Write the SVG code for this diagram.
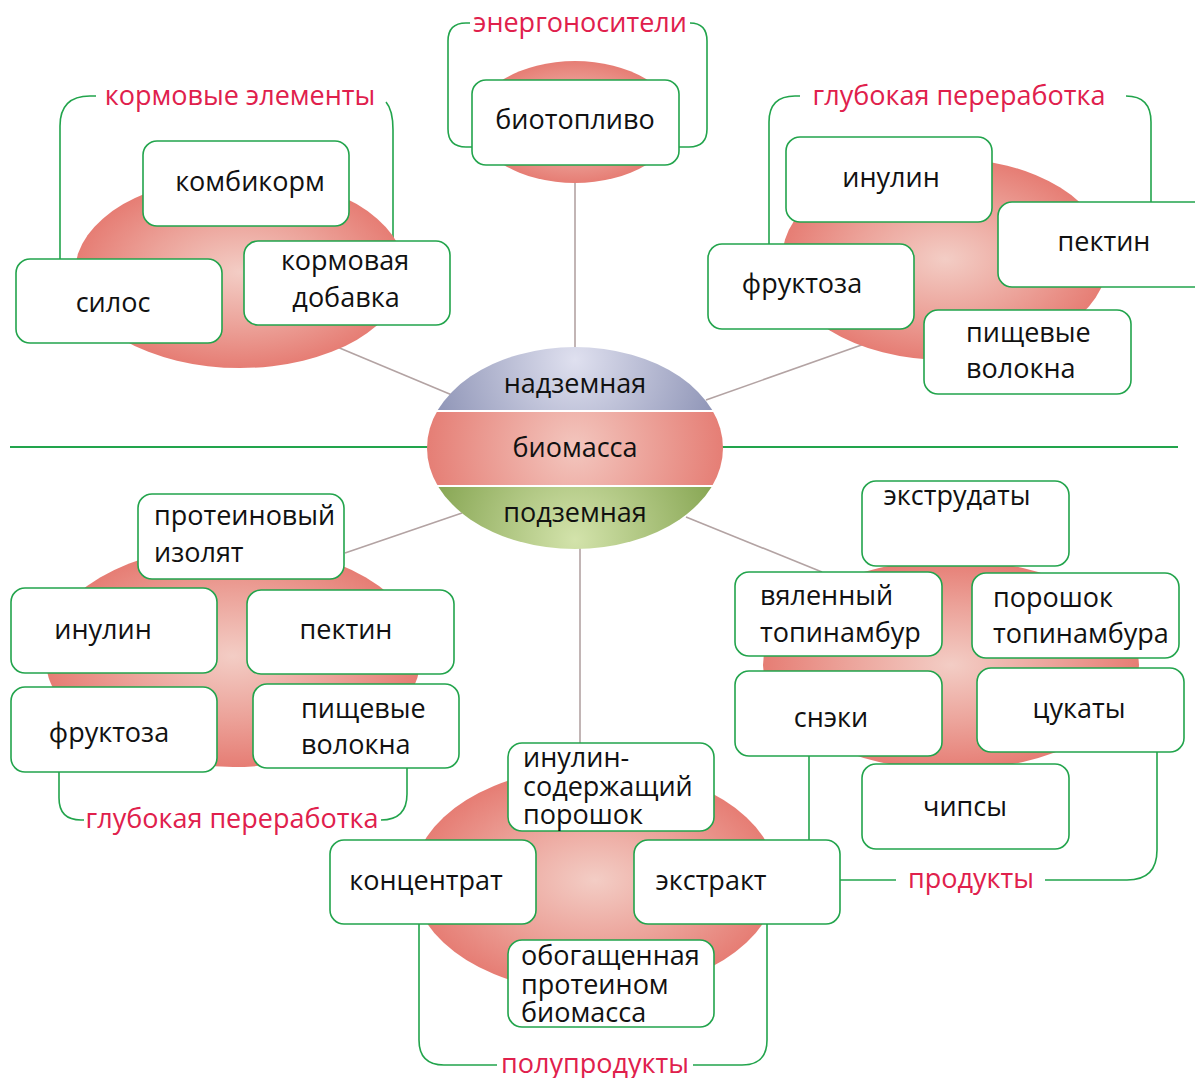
<svg xmlns="http://www.w3.org/2000/svg" width="1195" height="1078" viewBox="0 0 1195 1078">
<style>
.box{fill:#fff;stroke:#22a44c;stroke-width:1.6}
.br{fill:none;stroke:#22a44c;stroke-width:1.6}
.con{fill:none;stroke:#b3a3a3;stroke-width:1.6}
.t{font-family:"Open Sans","Noto Sans",sans-serif;font-size:27px;fill:#111}
.c{text-anchor:middle}
.r{font-family:"Open Sans","Noto Sans",sans-serif;font-size:27px;fill:#e0204c;text-anchor:middle}
.blob{fill:url(#pink)}
</style>
<defs>
<radialGradient id="pink" cx="50%" cy="50%" r="50%">
<stop offset="0" stop-color="#f3cdc5"/>
<stop offset="0.55" stop-color="#eca39a"/>
<stop offset="1" stop-color="#e67d74"/>
</radialGradient>
<radialGradient id="gTop" gradientUnits="userSpaceOnUse" cx="575" cy="360" r="150">
<stop offset="0" stop-color="#dfe0ef"/>
<stop offset="1" stop-color="#8e94b6"/>
</radialGradient>
<radialGradient id="gMid" gradientUnits="userSpaceOnUse" cx="575" cy="448" r="150">
<stop offset="0" stop-color="#f3c6be"/>
<stop offset="1" stop-color="#e57d74"/>
</radialGradient>
<radialGradient id="gBot" gradientUnits="userSpaceOnUse" cx="575" cy="540" r="150">
<stop offset="0" stop-color="#d3e3ab"/>
<stop offset="1" stop-color="#86a552"/>
</radialGradient>
<clipPath id="cc"><ellipse cx="575" cy="448" rx="148" ry="101"/></clipPath>
</defs>

<g id="connectors">
<line class="con" x1="575" y1="350" x2="575" y2="180"/>
<line class="con" x1="452" y1="395" x2="330" y2="344"/>
<line class="con" x1="706" y1="400" x2="870" y2="342"/>
<line class="con" x1="462" y1="513" x2="345" y2="553"/>
<line class="con" x1="686" y1="517" x2="822" y2="572"/>
<line class="con" x1="580" y1="545" x2="580" y2="745"/>
<line x1="10" y1="447" x2="430" y2="447" stroke="#22a44c" stroke-width="1.8"/>
<line x1="720" y1="447" x2="1178" y2="447" stroke="#22a44c" stroke-width="1.8"/>
</g>

<g id="brackets">
<path class="br" d="M60 260 V126 Q60 96 90 96 H96"/>
<path class="br" d="M386 102 Q393 110 393 130 V250"/>
<path class="br" d="M472 147 H466 Q448 147 448 129 V41 Q448 23 466 23 H470"/>
<path class="br" d="M690 23 Q707 23 707 41 V129 Q707 147 689 147 H679"/>
<path class="br" d="M769 250 V122 Q769 96 795 96 H800"/>
<path class="br" d="M1126 96 Q1151 96 1151 122 V205"/>
<path class="br" d="M59 770 V798 Q59 820 81 820 H84"/>
<path class="br" d="M381 820 Q407 820 407 794 V766"/>
<path class="br" d="M419 922 V1040 Q419 1065 444 1065 H497"/>
<path class="br" d="M693 1065 H742 Q767 1065 767 1040 V922"/>
<path class="br" d="M809 754 V842"/>
<path class="br" d="M838 880 H896"/>
<path class="br" d="M1045 880 H1127 Q1157 880 1157 850 V750"/>
</g>

<g id="center">
<g clip-path="url(#cc)">
<rect x="425" y="345" width="300" height="65" fill="url(#gTop)"/>
<rect x="425" y="412" width="300" height="73" fill="url(#gMid)"/>
<rect x="425" y="487" width="300" height="65" fill="url(#gBot)"/>
</g>
<text class="t c" x="575" y="393">надземная</text>
<text class="t c" x="575" y="457">биомасса</text>
<text class="t c" x="575" y="522">подземная</text>
</g>

<g id="group-feed">
<ellipse class="blob" cx="240" cy="272" rx="165" ry="96"/>
<text class="r" x="240" y="105">кормовые элементы</text>
<g id="n-kombikorm"><rect class="box" x="143" y="141" width="206" height="85" rx="14"/><text class="t c" x="250" y="191">комбикорм</text></g>
<g id="n-silos"><rect class="box" x="16" y="259" width="206" height="84" rx="14"/><text class="t c" x="113" y="312">силос</text></g>
<g id="n-dobavka"><rect class="box" x="244" y="241" width="206" height="84" rx="14"/><text class="t c" x="345" y="270">кормовая</text><text class="t c" x="346" y="307">добавка</text></g>
</g>

<g id="group-energy">
<ellipse class="blob" cx="575" cy="122" rx="100" ry="61"/>
<text class="r" x="580" y="32">энергоносители</text>
<g id="n-biotoplivo"><rect class="box" x="472" y="80" width="207" height="85" rx="14"/><text class="t c" x="575" y="129">биотопливо</text></g>
</g>

<g id="group-deep-top">
<ellipse class="blob" cx="945" cy="259" rx="163" ry="101"/>
<text class="r" x="959" y="105">глубокая переработка</text>
<g id="n-inulin1"><rect class="box" x="786" y="137" width="206" height="85" rx="14"/><text class="t c" x="891" y="187">инулин</text></g>
<g id="n-pektin1"><rect class="box" x="998" y="202" width="210" height="85" rx="14"/><text class="t c" x="1104" y="251">пектин</text></g>
<g id="n-fruktoza1"><rect class="box" x="708" y="244" width="206" height="85" rx="14"/><text class="t c" x="802" y="293">фруктоза</text></g>
<g id="n-volokna1"><rect class="box" x="924" y="310" width="207" height="84" rx="14"/><text class="t" x="966" y="342">пищевые</text><text class="t" x="966" y="378">волокна</text></g>
</g>

<g id="group-deep-bottom">
<ellipse class="blob" cx="233" cy="656" rx="188" ry="111"/>
<text class="r" x="232" y="828">глубокая переработка</text>
<g id="n-izolyat"><rect class="box" x="138" y="494" width="206" height="85" rx="14"/><text class="t" x="154" y="525">протеиновый</text><text class="t" x="154" y="562">изолят</text></g>
<g id="n-inulin2"><rect class="box" x="11" y="588" width="206" height="85" rx="14"/><text class="t c" x="103" y="639">инулин</text></g>
<g id="n-pektin2"><rect class="box" x="247" y="590" width="207" height="84" rx="14"/><text class="t c" x="346" y="639">пектин</text></g>
<g id="n-fruktoza2"><rect class="box" x="11" y="687" width="206" height="85" rx="14"/><text class="t c" x="109" y="742">фруктоза</text></g>
<g id="n-volokna2"><rect class="box" x="253" y="684" width="206" height="84" rx="14"/><text class="t" x="301" y="718">пищевые</text><text class="t" x="301" y="754">волокна</text></g>
</g>

<g id="group-semi">
<ellipse class="blob" cx="595" cy="880" rx="182" ry="113"/>
<text class="r" x="595" y="1073">полупродукты</text>
<g id="n-poroshok"><rect class="box" x="508" y="743" width="206" height="88" rx="14"/><text class="t" x="523" y="767">инулин-</text><text class="t" x="523" y="796">содержащий</text><text class="t" x="523" y="824">порошок</text></g>
<g id="n-koncentrat"><rect class="box" x="330" y="840" width="206" height="84" rx="14"/><text class="t c" x="426" y="890">концентрат</text></g>
<g id="n-ekstrakt"><rect class="box" x="634" y="840" width="206" height="84" rx="14"/><text class="t c" x="711" y="890">экстракт</text></g>
<g id="n-biomassa"><rect class="box" x="508" y="940" width="206" height="87" rx="14"/><text class="t" x="521" y="965">обогащенная</text><text class="t" x="521" y="994">протеином</text><text class="t" x="521" y="1022">биомасса</text></g>
</g>

<g id="group-products">
<ellipse class="blob" cx="951" cy="665" rx="188" ry="105"/>
<text class="r" x="971" y="888">продукты</text>
<g id="n-ekstrudaty"><rect class="box" x="862" y="481" width="207" height="85" rx="14"/><text class="t c" x="957" y="505">экструдаты</text></g>
<g id="n-vyalenny"><rect class="box" x="735" y="572" width="207" height="84" rx="14"/><text class="t" x="760" y="605">вяленный</text><text class="t" x="760" y="642">топинамбур</text></g>
<g id="n-poroshok-top"><rect class="box" x="972" y="573" width="207" height="85" rx="14"/><text class="t" x="993" y="607">порошок</text><text class="t" x="993" y="643">топинамбура</text></g>
<g id="n-sneki"><rect class="box" x="735" y="671" width="207" height="85" rx="14"/><text class="t c" x="831" y="727">снэки</text></g>
<g id="n-cukaty"><rect class="box" x="977" y="668" width="207" height="84" rx="14"/><text class="t c" x="1079" y="718">цукаты</text></g>
<g id="n-chipsy"><rect class="box" x="862" y="764" width="207" height="85" rx="14"/><text class="t c" x="965" y="816">чипсы</text></g>
</g>
</svg>
